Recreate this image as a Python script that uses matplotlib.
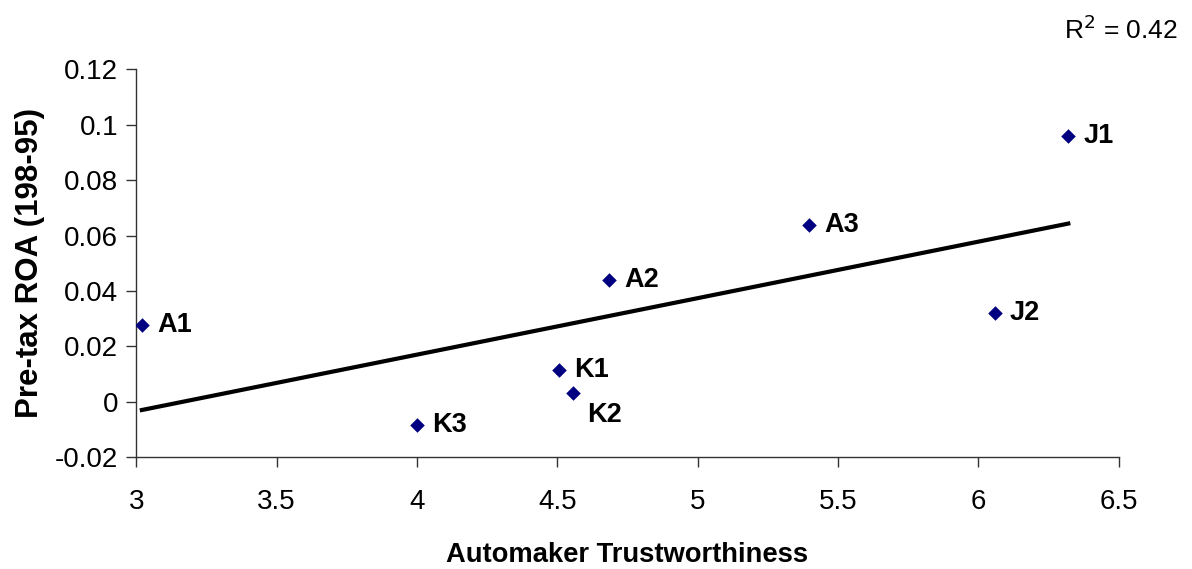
import numpy as np
import matplotlib
matplotlib.use("Agg")
import matplotlib.pyplot as plt

plt.rcParams['font.family'] = ['Liberation Sans', 'DejaVu Sans']

labels = ["A1", "K3", "K1", "K2", "A2", "A3", "J2", "J1"]
trust = [3.02, 4.00, 4.505, 4.555, 4.685, 5.398, 6.059, 6.32]
roa = [0.0277, -0.0083, 0.0115, 0.0031, 0.044, 0.0638, 0.032, 0.0959]
r2_text = "0.42"

fig = plt.figure(figsize=(11.92, 5.69), dpi=100)
ax = fig.add_axes([0.1143, 0.1963, 0.9386 - 0.1143, 0.8782 - 0.1963])

ax.scatter(trust, roa, marker='D', s=55, color='#000080', zorder=3, linewidths=0)

# linear trendline
coef = np.polyfit(trust, roa, 1)
xs = np.array([min(trust), max(trust)])
ax.plot(xs, np.polyval(coef, xs), color='black', lw=3, zorder=2)

offsets = {"K2": (14, -22)}
for lab, x, y in zip(labels, trust, roa):
    dx, dy = offsets.get(lab, (15, 0))
    ax.annotate(lab, (x, y), xytext=(dx, dy), textcoords='offset pixels',
                ha='left', va='center', fontsize=19.5, fontweight='bold')

ax.set_xlim(3, 6.5)
ax.set_ylim(-0.02, 0.12)
ax.set_xticks([3, 3.5, 4, 4.5, 5, 5.5, 6, 6.5])
ax.set_xticklabels(["3", "3.5", "4", "4.5", "5", "5.5", "6", "6.5"])
ax.set_yticks([-0.02, 0, 0.02, 0.04, 0.06, 0.08, 0.1, 0.12])
ax.set_yticklabels(["-0.02", "0", "0.02", "0.04", "0.06", "0.08", "0.1", "0.12"])
ax.tick_params(axis='both', direction='out', length=7, width=1, labelsize=20,
               color='#333333')
ax.tick_params(axis='x', pad=16)
ax.tick_params(axis='y', pad=6)
for s in ['top', 'right']:
    ax.spines[s].set_visible(False)
for s in ['left', 'bottom']:
    ax.spines[s].set_color('#333333')
    ax.spines[s].set_linewidth(1)

ax.set_xlabel("Automaker Trustworthiness", fontsize=19.7, fontweight='bold', labelpad=19)
ax.set_ylabel("Pre-tax ROA (198-95)", fontsize=22.5, fontweight='bold', labelpad=7)

fig.text(1178 / 1192, 1 - 30 / 569, "R$^2$ = " + r2_text, ha='right', va='center',
         fontsize=19)

fig.savefig("out.png", dpi=100)
